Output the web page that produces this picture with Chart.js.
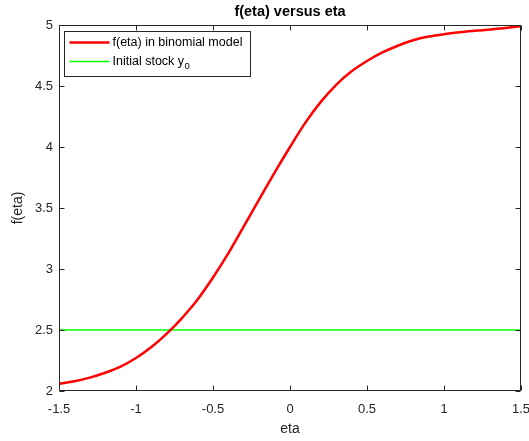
<!DOCTYPE html>
<html><head><meta charset="utf-8">
<script src="https://cdn.jsdelivr.net/npm/chart.js@4.4.1/dist/chart.umd.min.js"></script>
<style>html,body{margin:0;padding:0;background:#fff;}#wrap{width:529px;height:441px;}</style>
</head><body><div id="wrap"><canvas id="c" width="529" height="441"></canvas></div>
<script>
const chartTitle = 'f(eta) versus eta';
const xAxisLabel = 'eta';
const yAxisLabel = 'f(eta)';
const etaValues = [-1.5,-1.4,-1.3,-1.2,-1.1,-1.0,-0.9,-0.8,-0.7,-0.6,-0.5,-0.4,-0.3,-0.2,-0.1,0.0,0.1,0.2,0.3,0.4,0.5,0.6,0.7,0.8,0.9,1.0,1.1,1.2,1.3,1.4,1.5];
const fValues   = [2.06,2.08,2.11,2.15,2.20,2.27,2.36,2.47,2.60,2.75,2.93,3.13,3.35,3.57,3.79,4.00,4.20,4.37,4.51,4.62,4.705,4.775,4.83,4.875,4.905,4.925,4.94,4.952,4.963,4.975,4.99];
const y0Eta = [-1.5, 1.5];
const y0Values = [2.5, 2.5];
const xTicks = [-1.5,-1,-0.5,0,0.5,1,1.5];
const yTicks = [2,2.5,3,3.5,4,4.5,5];
const seriesLabels = ['f(eta) in binomial model', 'Initial stock y'];
const seriesSubscripts = ['', '0'];
const seriesColors = ['#ff0000', '#00ff00'];

const FONT = '"Liberation Sans", Arial, Helvetica, sans-serif';
const AXIS_COLOR = '#262626';

const matlabPlugin = {
  id: 'matlabAxes',
  afterDatasetsDraw(chart) {
    const {ctx, chartArea: a, scales: {x, y}} = chart;
    ctx.save();
    ctx.strokeStyle = AXIS_COLOR;
    ctx.lineWidth = 1;
    const L = Math.round(a.left) + 0.5, R = Math.round(a.right) - 0.5;
    const T = Math.round(a.top) + 0.5, B = Math.round(a.bottom) - 0.5;
    ctx.beginPath();
    ctx.rect(L, T, R - L, B - T);
    x.ticks.forEach(t => {
      const px = Math.round(x.getPixelForValue(t.value)) + 0.5;
      ctx.moveTo(px, B); ctx.lineTo(px, B - 5);
      ctx.moveTo(px, T); ctx.lineTo(px, T + 5);
    });
    y.ticks.forEach(t => {
      const py = Math.round(y.getPixelForValue(t.value)) + 0.5;
      ctx.moveTo(L, py); ctx.lineTo(L + 5, py);
      ctx.moveTo(R, py); ctx.lineTo(R - 5, py);
    });
    ctx.stroke();

    // title
    ctx.fillStyle = '#000';
    ctx.font = 'bold 14.5px ' + FONT;
    ctx.textAlign = 'center';
    ctx.textBaseline = 'middle';
    ctx.fillText(chartTitle, (a.left + a.right) / 2, 12);

    // legend
    const bx = Math.round(a.left) + 5.5, by = Math.round(a.top) + 6.5, bw = 186, bh = 45;
    ctx.fillStyle = '#fff';
    ctx.fillRect(bx, by, bw, bh);
    ctx.strokeStyle = AXIS_COLOR;
    ctx.lineWidth = 1;
    ctx.strokeRect(bx, by, bw, bh);
    chart.data.datasets.forEach((ds, i) => {
      const ly = by + 11 + i * 19;
      ctx.strokeStyle = ds.borderColor;
      ctx.lineWidth = ds.borderWidth;
      ctx.beginPath();
      ctx.moveTo(bx + 5, ly); ctx.lineTo(bx + 45, ly);
      ctx.stroke();
      ctx.fillStyle = '#000';
      ctx.font = '12.5px ' + FONT;
      ctx.textAlign = 'left';
      ctx.textBaseline = 'middle';
      const tx = bx + 48;
      ctx.fillText(ds.label, tx, ly);
      if (seriesSubscripts[i]) {
        const w = ctx.measureText(ds.label).width;
        ctx.font = '9.5px ' + FONT;
        ctx.fillText(seriesSubscripts[i], tx + w + 0.5, ly + 5);
      }
    });
    ctx.restore();
  }
};

new Chart(document.getElementById('c'), {
  type: 'line',
  data: {
    datasets: [
      {
        label: seriesLabels[0],
        data: etaValues.map((e, i) => ({x: e, y: fValues[i]})),
        borderColor: seriesColors[0],
        borderWidth: 2.5,
        pointRadius: 0,
        cubicInterpolationMode: 'monotone',
        fill: false
      },
      {
        label: seriesLabels[1],
        data: y0Eta.map((e, i) => ({x: e, y: y0Values[i]})),
        borderColor: seriesColors[1],
        borderWidth: 1.5,
        pointRadius: 0,
        fill: false
      }
    ]
  },
  options: {
    responsive: false,
    devicePixelRatio: 1,
    animation: false,
    layout: {padding: {top: 25, right: 0, left: 0, bottom: 0}},
    plugins: {
      legend: {display: false},
      title: {display: false},
      tooltip: {enabled: false}
    },
    scales: {
      x: {
        type: 'linear',
        min: -1.5, max: 1.5,
        afterBuildTicks: s => { s.ticks = xTicks.map(v => ({value: v})); },
        afterFit: s => { s.height = 50; s.paddingRight = 8; s.paddingLeft = 0; },
        grid: {display: false, drawTicks: false},
        border: {display: false},
        ticks: {color: AXIS_COLOR, font: {family: FONT, size: 13}, padding: 11, maxRotation: 0, autoSkip: false, callback: v => String(v)},
        title: {display: true, text: xAxisLabel, color: AXIS_COLOR, font: {family: FONT, size: 14}, padding: {top: 0, bottom: 3}}
      },
      y: {
        type: 'linear',
        min: 2, max: 5,
        afterBuildTicks: s => { s.ticks = yTicks.map(v => ({value: v})); },
        afterFit: s => { s.width = 59; },
        grid: {display: false, drawTicks: false},
        border: {display: false},
        ticks: {color: AXIS_COLOR, font: {family: FONT, size: 13}, padding: 6, callback: v => String(v)},
        title: {display: true, text: yAxisLabel, color: AXIS_COLOR, font: {family: FONT, size: 14}, padding: {top: 10, bottom: 0}}
      }
    }
  },
  plugins: [matlabPlugin]
});
</script>
</body></html>
